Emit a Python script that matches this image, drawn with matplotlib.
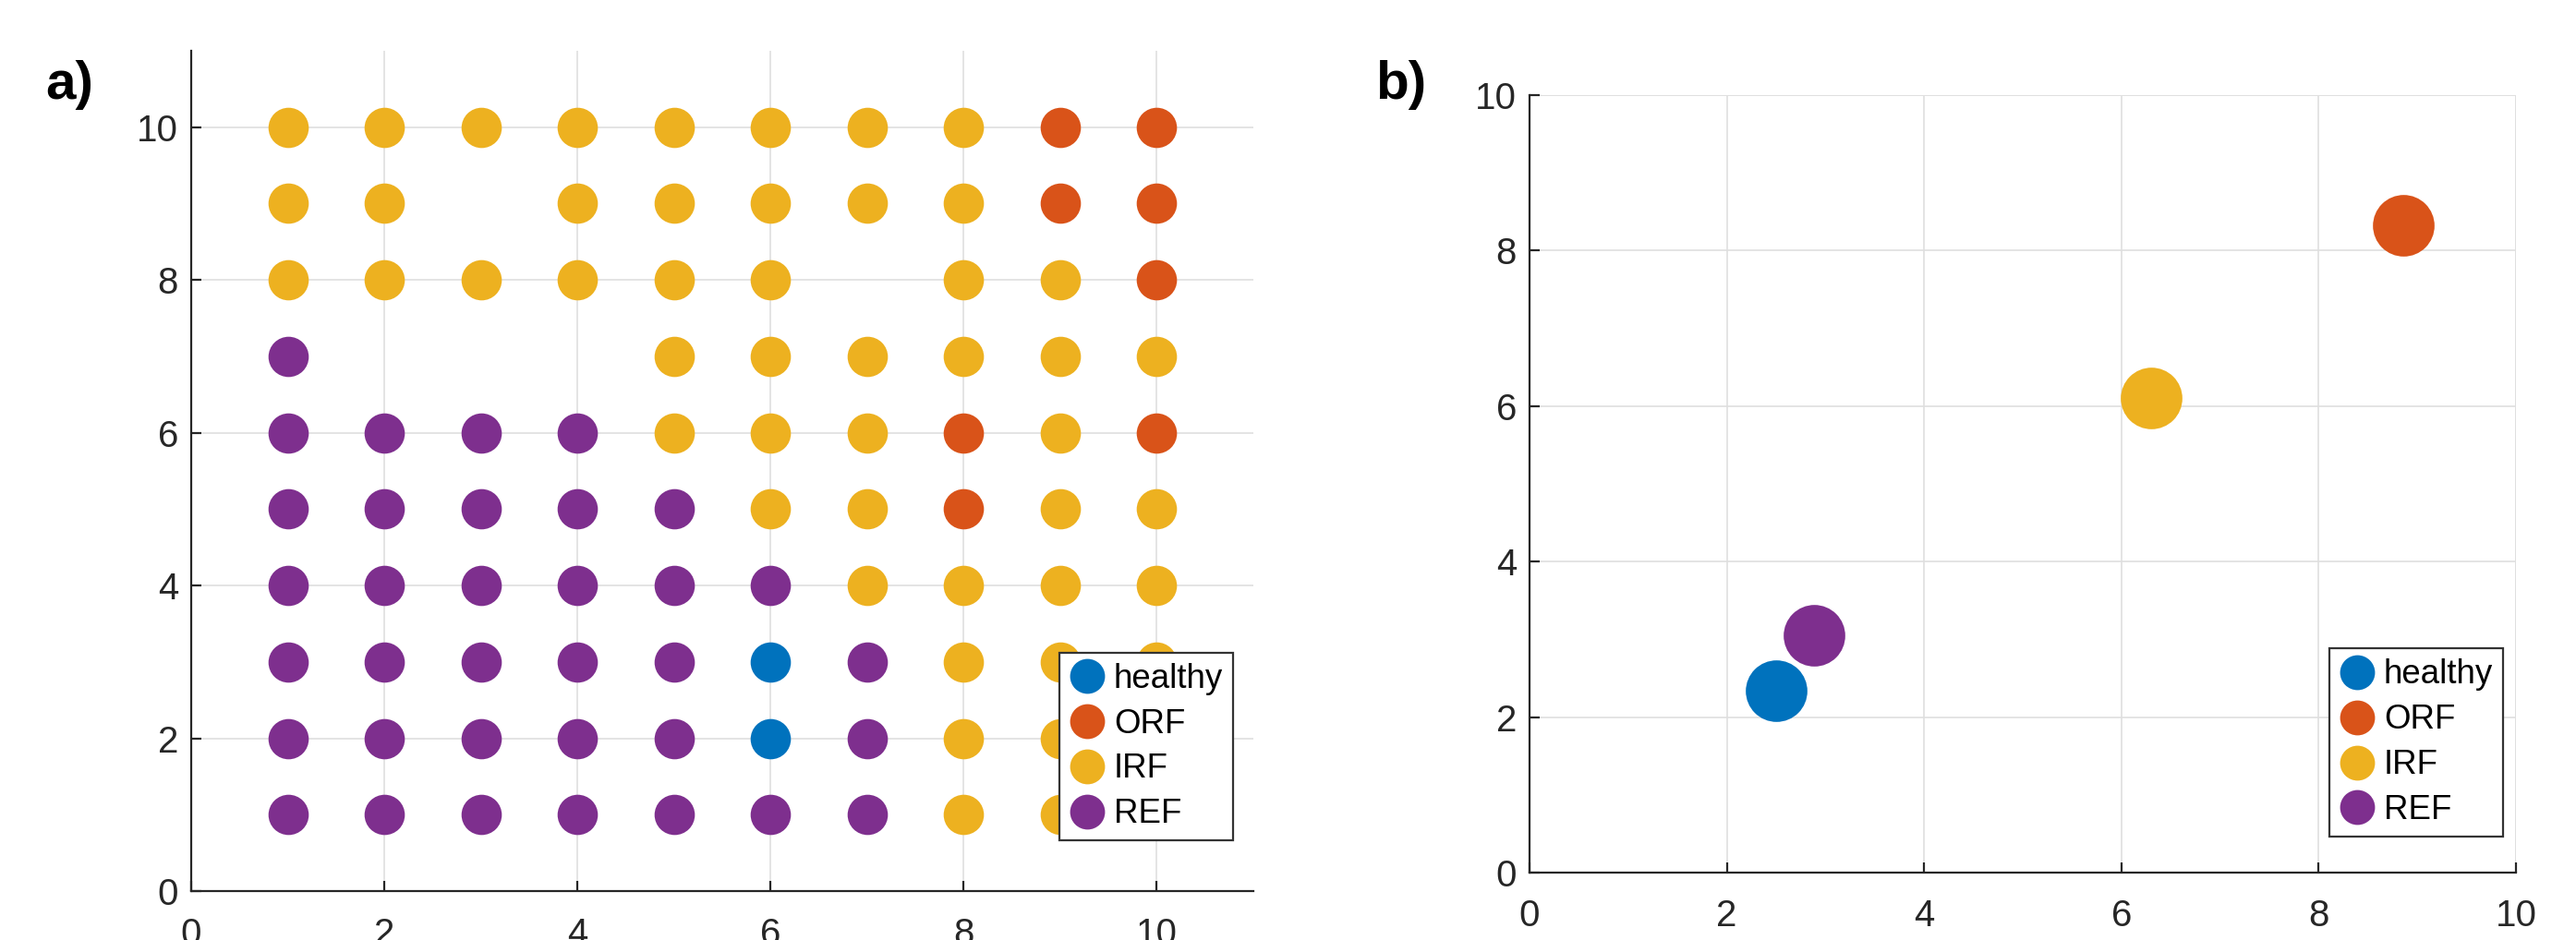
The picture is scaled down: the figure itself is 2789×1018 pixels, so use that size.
import matplotlib
matplotlib.use("Agg")
import matplotlib.pyplot as plt
from matplotlib.lines import Line2D

plt.rcParams['font.family'] = ['Liberation Sans', 'DejaVu Sans']

# ---------------- data ----------------
categories = ["healthy", "ORF", "IRF", "REF"]
codes = ["H", "O", "I", "R"]
colors = ["#0072BD", "#D95319", "#EDB120", "#7E2F8E"]

# panel a: class of each grid cell, x = 1..10 left to right ('.' = empty)
grid_y = [10, 9, 8, 7, 6, 5, 4, 3, 2, 1]
grid_rows = [
    "IIIIIIIIOO",
    "II.IIIIIOO",
    "IIIIII.IIO",
    "R...IIIIII",
    "RRRRIIIOIO",
    "RRRRRIIOII",
    "RRRRRRIIII",
    "RRRRRHRIII",
    "RRRRRHRIII",
    "RRRRRRRIII",
]
grid_x = [1, 2, 3, 4, 5, 6, 7, 8, 9, 10]

# panel b: class centroids
centroid_x = [2.50, 8.86, 6.30, 2.88]
centroid_y = [2.34, 8.33, 6.11, 3.05]

ticks = [0, 2, 4, 6, 8, 10]

# ---------------- figure ----------------
W, H, DPI = 2789, 1018, 200
fig = plt.figure(figsize=(W / DPI, H / DPI), dpi=DPI)

axA = fig.add_axes([207 / W, 1 - 965 / H, 1150 / W, 910 / H])
axB = fig.add_axes([1656 / W, 1 - 945 / H, 1068 / W, 842 / H])

axis_col = "#262626"
grid_col = "#dfdfdf"


def style(ax, lim):
    ax.set_xlim(0, lim)
    ax.set_ylim(0, lim)
    ax.set_xticks(ticks)
    ax.set_yticks(ticks)
    for s in ("top", "right"):
        ax.spines[s].set_visible(False)
    for s in ("left", "bottom"):
        ax.spines[s].set_color(axis_col)
        ax.spines[s].set_linewidth(0.8)
    ax.grid(True, color=grid_col, linewidth=0.6)
    ax.set_axisbelow(True)
    ax.tick_params(direction="in", length=4, width=0.8, color=axis_col,
                   labelsize=14.5, labelcolor=axis_col)
    ax.tick_params(axis="x", pad=10)
    ax.tick_params(axis="y", pad=5)


# panel a
for code, cat, col in zip(codes, categories, colors):
    xs, ys = [], []
    for yv, row in zip(grid_y, grid_rows):
        for xv, c in zip(grid_x, row):
            if c == code:
                xs.append(xv)
                ys.append(yv)
    axA.plot(xs, ys, linestyle="none", marker="o", markersize=15.7,
             markerfacecolor=col, markeredgecolor=col, markeredgewidth=0,
             clip_on=False, zorder=3)
style(axA, 11)

# panel b
for cx, cy, col in zip(centroid_x, centroid_y, colors):
    axB.plot([cx], [cy], linestyle="none", marker="o", markersize=24,
             markerfacecolor=col, markeredgecolor=col, markeredgewidth=0,
             zorder=3)
style(axB, 10)
# box-off MATLAB look: grid lines at upper limits
axB.axhline(10, color=grid_col, linewidth=0.6, zorder=0.5)
axB.axvline(10, color=grid_col, linewidth=0.6, zorder=0.5)

handles = [Line2D([], [], linestyle="none", marker="o", markersize=13.6,
                  markerfacecolor=c, markeredgewidth=0) for c in colors]

for ax, anchor in ((axA, (0.981, 0.060)), (axB, (0.987, 0.046))):
    leg = ax.legend(handles, categories, loc="lower right", bbox_to_anchor=anchor,
                    fontsize=13.2, frameon=True, fancybox=False, framealpha=1,
                    edgecolor="#333333", borderpad=0.3, labelspacing=0.38,
                    handlelength=1.0, handletextpad=0.3, borderaxespad=0)
    leg.get_frame().set_linewidth(0.8)
    leg.set_zorder(10)

fig.text(49 / W, 1 - 92 / H, "a)", fontsize=21, fontweight="bold",
         ha="left", va="center")
fig.text(1489 / W, 1 - 92 / H, "b)", fontsize=21, fontweight="bold",
         ha="left", va="center")

fig.savefig("out.png", dpi=DPI)
